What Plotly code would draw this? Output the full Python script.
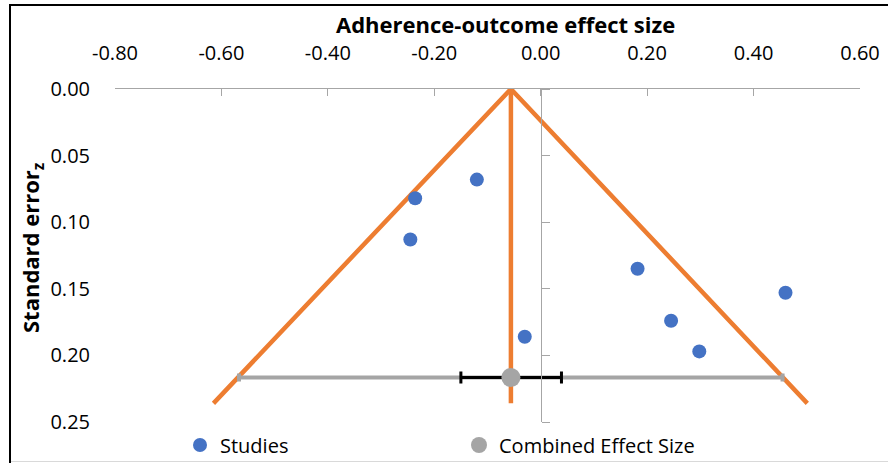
import plotly.graph_objects as go

# ---------------- data ----------------
study_effect = [-0.12, -0.236, -0.245, -0.030, 0.182, 0.245, 0.298, 0.460]
study_se = [0.068, 0.082, 0.113, 0.186, 0.135, 0.174, 0.197, 0.153]

combined_effect = [-0.056]
combined_se = [0.2166]
combined_ci_low = [-0.150]
combined_ci_high = [0.039]
funnel_low_at_combined = [-0.567]
funnel_high_at_combined = [0.4545]

funnel_center = -0.056
funnel_bottom_se = 0.236
funnel_left_end = -0.615
funnel_right_end = 0.501

x_tick_vals = [-0.8, -0.6, -0.4, -0.2, 0.0, 0.2, 0.4, 0.6]
x_tick_text = ["-0.80", "-0.60", "-0.40", "-0.20", "0.00", "0.20", "0.40", "0.60"]
y_tick_vals = [0.0, 0.05, 0.10, 0.15, 0.20, 0.25]
y_tick_text = ["0.00", "0.05", "0.10", "0.15", "0.20", "0.25"]

# ---------------- layout geometry ----------------
W, H = 888, 463
L, R, T, B = 115, 860, 89, 422
FONT = "Open Sans"
ORANGE = "#ED7D31"
BLUE = "#4472C4"
GREY = "#A5A5A5"
AXIS = "#A6A6A6"


def px_x(p):
    return (p - L) / (R - L)


def px_y(p):
    return 1 - (p - T) / (B - T)


fig = go.Figure()

# funnel lines
fx = [funnel_left_end, funnel_center, funnel_right_end, None, funnel_center, funnel_center]
fy = [funnel_bottom_se, 0.0, funnel_bottom_se, None, 0.0, funnel_bottom_se]
fig.add_trace(go.Scatter(x=fx, y=fy, mode="lines", line=dict(color=ORANGE, width=4.5),
                         showlegend=False, hoverinfo="skip"))

# grey horizontal bar to funnel edges
fig.add_trace(go.Scatter(
    x=combined_effect, y=combined_se, mode="markers",
    marker=dict(size=1, color="rgba(0,0,0,0)"),
    error_x=dict(type="data", symmetric=False,
                 array=[funnel_high_at_combined[0] - combined_effect[0]],
                 arrayminus=[combined_effect[0] - funnel_low_at_combined[0]],
                 color=GREY, thickness=4, width=4),
    showlegend=False, hoverinfo="skip"))

# studies
fig.add_trace(go.Scatter(x=study_effect, y=study_se, mode="markers", name="Studies",
                         marker=dict(size=14, color=BLUE)))

# combined effect with CI
fig.add_trace(go.Scatter(
    x=combined_effect, y=combined_se, mode="markers", name="Combined Effect Size",
    marker=dict(size=19, color=GREY),
    error_x=dict(type="data", symmetric=False,
                 array=[combined_ci_high[0] - combined_effect[0]],
                 arrayminus=[combined_effect[0] - combined_ci_low[0]],
                 color="black", thickness=3, width=6)))

# dummy trace for the secondary (zero-position) y axis
fig.add_trace(go.Scatter(x=[None], y=[None], yaxis="y2", showlegend=False, hoverinfo="skip"))

fig.update_layout(
    width=W, height=H,
    margin=dict(l=L, r=W - R, t=T, b=H - B, pad=0, autoexpand=False),
    paper_bgcolor="white", plot_bgcolor="white",
    font=dict(family=FONT, size=20, color="black"),
    showlegend=True,
    legend=dict(orientation="h", x=px_x(180), y=px_y(445), xanchor="left", yanchor="middle",
                entrywidth=234, font=dict(family=FONT, size=20, color="black"),
                bgcolor="rgba(0,0,0,0)"),
    xaxis=dict(range=[-0.8, 0.6], side="top", tickvals=x_tick_vals, ticktext=x_tick_text,
               showline=True, linecolor=AXIS, linewidth=1.3, ticks="inside", ticklen=7,
               tickcolor=AXIS, tickwidth=1.3, showgrid=False, zeroline=False,
               ticklabelstandoff=20, fixedrange=True, automargin=False),
    yaxis=dict(range=[0.25, 0.0], tickvals=y_tick_vals, ticktext=y_tick_text,
               showline=False, ticks="", showgrid=False, zeroline=False,
               ticklabelstandoff=24, fixedrange=True, automargin=False),
    yaxis2=dict(range=[0.25, 0.0], overlaying="y", anchor="free",
                position=(0 - (-0.8)) / 1.4, side="right", tickvals=y_tick_vals,
                showticklabels=False, showline=True, linecolor=AXIS, linewidth=1.3,
                ticks="outside", ticklen=8, tickcolor=AXIS, tickwidth=1.3,
                showgrid=False, zeroline=False, fixedrange=True, automargin=False),
    annotations=[
        dict(text="<b>Adherence-outcome effect size</b>", xref="paper", yref="paper",
             x=px_x(505), y=px_y(24), xanchor="center", yanchor="middle",
             showarrow=False, font=dict(family=FONT, size=22, color="black")),
        dict(text="<b>Standard error<sub>z</sub></b>", xref="paper", yref="paper",
             x=px_x(32), y=px_y(248), xanchor="center", yanchor="middle", textangle=-90,
             showarrow=False, font=dict(family=FONT, size=22, color="black")),
    ],
    shapes=[
        dict(type="line", xref="paper", yref="paper", x0=px_x(10), x1=px_x(10),
             y0=px_y(5), y1=px_y(463), line=dict(color="black", width=2)),
        dict(type="line", xref="paper", yref="paper", x0=px_x(9), x1=px_x(890),
             y0=px_y(5), y1=px_y(5), line=dict(color="black", width=2)),
        dict(type="line", xref="paper", yref="paper", x0=px_x(11), x1=px_x(890),
             y0=px_y(461.5), y1=px_y(461.5), line=dict(color="#D9D9D9", width=1)),
    ],
)

fig.write_html("out.html", config={"displayModeBar": False},
               post_script="document.body.style.margin='0';")
